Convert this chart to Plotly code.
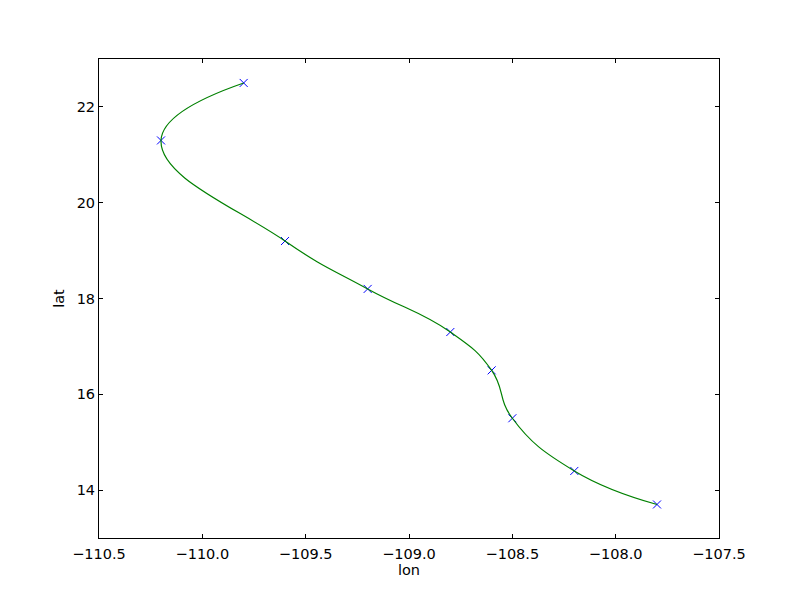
import plotly.graph_objects as go

lon = [-109.8, -110.2, -109.6, -109.2, -108.8, -108.6, -108.5, -108.2, -107.8]
lat = [22.5, 21.3, 19.2, 18.2, 17.3, 16.5, 15.5, 14.4, 13.7]

x_ticks = [-110.5, -110.0, -109.5, -109.0, -108.5, -108.0, -107.5]
x_ticktext = ["\u2212110.5", "\u2212110.0", "\u2212109.5", "\u2212109.0", "\u2212108.5", "\u2212108.0", "\u2212107.5"]
y_ticks = [14, 16, 18, 20, 22]

fig = go.Figure()
fig.add_trace(go.Scatter(
    x=lon, y=lat, mode="markers",
    marker=dict(symbol="x-thin", size=8, line=dict(color="#0000ff", width=1)),
    showlegend=False,
))
fig.add_trace(go.Scatter(
    x=lon, y=lat, mode="lines",
    line=dict(color="#008000", width=1.2, shape="spline", smoothing=1.3),
    showlegend=False,
))

FONT = dict(family="DejaVu Sans", size=14.5, color="black")
axis_common = dict(
    showgrid=False, zeroline=False, showline=True, linecolor="black", linewidth=1,
    mirror="ticks", ticks="inside", ticklen=4, tickcolor="black", tickwidth=1,
    tickfont=FONT,
)
fig.update_layout(
    width=800, height=600,
    margin=dict(l=91, r=89, t=51, b=70),
    paper_bgcolor="white", plot_bgcolor="white",
    xaxis=dict(range=[-110.5, -107.5], tickvals=x_ticks, ticktext=x_ticktext,
               ticklabelstandoff=3,
               title=dict(text="lon", font=FONT, standoff=1),
               **axis_common),
    yaxis=dict(range=[13, 23], tickvals=y_ticks,
               title=dict(text="lat", font=FONT, standoff=8),
               **axis_common),
)
fig.write_html("out.html")
